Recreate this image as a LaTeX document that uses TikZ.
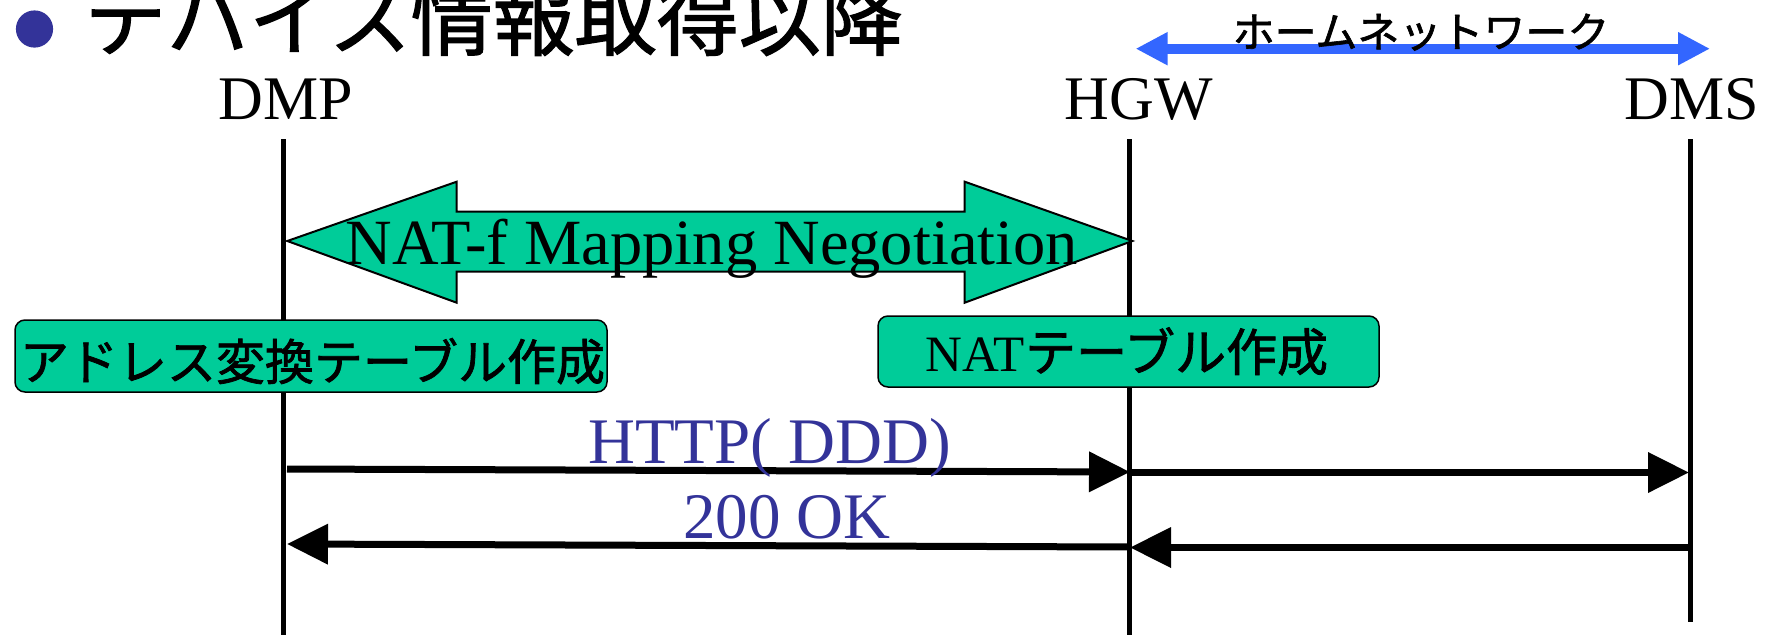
\documentclass[tikz,border=0pt]{standalone}
\usepackage{fontspec}
\setmainfont{Liberation Serif}
\newfontfamily\jp[RawFeature={embolden=1.5}]{Noto Sans CJK JP}
\usetikzlibrary{arrows.meta}
\definecolor{tealg}{RGB}{0,204,153}
\definecolor{navy}{RGB}{51,51,153}
\definecolor{homeblue}{RGB}{51,102,255}
\tikzset{
  lbl/.style={inner sep=0pt, anchor=base},
  lifeline/.style={line width=4.5pt, black},
  msg/.style={line width=7pt, -{Triangle[length=41pt,width=39pt]}},
  greenbox/.style={draw=black, line width=1.5pt, fill=tealg, rounded corners=10pt},
  navytext/.style={lbl, text=navy, font=\fontsize{65}{65}\selectfont},
  actor/.style={lbl, font=\fontsize{62}{62}\selectfont}
}
\begin{document}
\begin{tikzpicture}[x=1pt,y=-1pt]
\clip (0,0) rectangle (1771,635);
\useasboundingbox (0,0) rectangle (1771,635);
% title
\fill[navy] (34.5,29) circle (18.6);
\node[inner sep=0pt, anchor=base west] (title) at (85,49) {\jp\fontsize{82}{82}\selectfont デバイス情報取得以降};
% home network
\coordinate (hnL) at (1135.6,48.7);
\coordinate (hnR) at (1710,48.7);
\draw[homeblue, line width=10pt, {Triangle[length=32pt,width=31pt]}-{Triangle[length=32pt,width=31pt]}] (hnL) -- (hnR);
\node[lbl] (home) at (1421,47.5) {\jp\fontsize{42}{42}\selectfont ホームネットワーク};
% actors
\node[actor] (dmp) at (285.5,119) {DMP};
\node[actor] (hgw) at (1139,119) {HGW};
\node[actor] (dms) at (1692,119) {DMS};
\coordinate (dmpT) at (283.5,139);
\coordinate (dmpB) at (283.5,635);
\coordinate (hgwT) at (1129.5,139);
\coordinate (hgwB) at (1129.5,635);
\coordinate (dmsT) at (1690.5,139);
\coordinate (dmsB) at (1690.5,622);
\draw[lifeline] (dmpT) -- (dmpB);
\draw[lifeline] (hgwT) -- (hgwB);
\draw[lifeline] (dmsT) -- (dmsB);
% negotiation double arrow
\draw[fill=tealg, line width=2pt, line join=miter]
  (287.3,241) -- (456.7,181.7) -- (456.7,211.7) -- (964.7,211.7) -- (964.7,181.7)
  -- (1132.3,241) -- (964.7,302.7) -- (964.7,271.7) -- (456.7,271.7) -- (456.7,302.7) -- cycle;
\node[lbl, font=\fontsize{64.5}{64.5}\selectfont] (neg) at (712,264) {NAT-f Mapping Negotiation};
% boxes
\draw[greenbox] (15,320) rectangle (607,392);
\node[lbl] (box1) at (312.5,380) {\jp\fontsize{49}{49}\selectfont アドレス変換テーブル作成};
\draw[greenbox] (878,316) rectangle (1379,387);
\node[lbl] (box2) at (1127,371) {\fontsize{51}{51}\selectfont NAT{\jp テーブル作成}};
% messages
\coordinate (m1s) at (287,469);
\coordinate (m1e) at (1130,472);
\coordinate (m2s) at (1131,472.5);
\coordinate (m2e) at (1689,472.5);
\coordinate (m3s) at (1690,547.5);
\coordinate (m3e) at (1130,547.5);
\coordinate (m4s) at (1130,547);
\coordinate (m4e) at (287,544);
\draw[msg] (m1s) -- (m1e);
\draw[msg] (m2s) -- (m2e);
\draw[msg] (m3s) -- (m3e);
\draw[msg] (m4s) -- (m4e);
\node[navytext] (http) at (769.5,463) {HTTP( DDD)};
\node[navytext] (ok) at (787,538) {200 OK};
\end{tikzpicture}
\end{document}
